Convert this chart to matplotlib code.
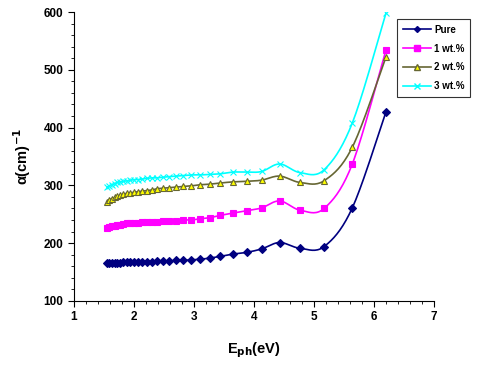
import numpy as np
import matplotlib
matplotlib.use("Agg")
import matplotlib.pyplot as plt
from matplotlib.ticker import MultipleLocator
from matplotlib.lines import Line2D

plt.rcParams['font.family'] = ['Liberation Sans', 'DejaVu Sans']
plt.rcParams['font.weight'] = 'bold'

# photon energy (eV)
energy = [1.55, 1.59, 1.63, 1.68, 1.72, 1.77, 1.82, 1.88, 1.94, 2.00, 2.07,
          2.14, 2.21, 2.30, 2.38, 2.48, 2.58, 2.70, 2.82, 2.95, 3.10, 3.26,
          3.44, 3.65, 3.88, 4.13, 4.43, 4.77, 5.17, 5.64, 6.20]

pure = [165, 165, 166, 166, 166, 166, 167, 167, 167, 167, 168, 168, 168, 168,
        169, 169, 169, 170, 170, 171, 172, 174, 177, 181, 184, 190, 201, 191,
        194, 261, 427]
wt1 = [227, 228, 229, 230, 231, 232, 233, 234, 234, 235, 235, 236, 236, 237,
       237, 238, 238, 239, 240, 240, 242, 244, 248, 252, 256, 261, 273, 257,
       260, 337, 534]
wt2 = [272, 275, 277, 279, 281, 283, 285, 286, 287, 288, 289, 290, 291, 292,
       294, 295, 296, 297, 298, 299, 301, 302, 304, 306, 307, 309, 316, 305,
       308, 366, 522]
wt3 = [297, 299, 301, 303, 305, 306, 307, 308, 309, 310, 310, 311, 312, 313,
       313, 314, 315, 316, 317, 318, 318, 319, 320, 323, 323, 324, 337, 322,
       327, 408, 598]

labels = ["Pure", "1 wt.%", "2 wt.%", "3 wt.%"]


def smooth(x, y, n=20):
    # Excel-like smoothed line (Catmull-Rom as cubic Bezier)
    p = np.column_stack([x, y]).astype(float)
    p = np.vstack([p[0], p, p[-1]])
    out = []
    t = np.linspace(0, 1, n)[:, None]
    for i in range(1, len(p) - 2):
        p0, p1, p2, p3 = p[i - 1], p[i], p[i + 1], p[i + 2]
        c1 = p1 + (p2 - p0) / 6
        c2 = p2 - (p3 - p1) / 6
        seg = ((1 - t) ** 3) * p1 + 3 * ((1 - t) ** 2) * t * c1 \
            + 3 * (1 - t) * t ** 2 * c2 + t ** 3 * p2
        out.append(seg)
    s = np.vstack(out)
    return s[:, 0], s[:, 1]


fig = plt.figure(figsize=(4.8, 3.66), dpi=100)
ax = fig.add_axes([0.154, 0.178, 0.75, 0.789])

styles = [
    dict(color="#000080", marker="D", ms=4, mfc="#000080", mec="#000080"),
    dict(color="#FF00FF", marker="s", ms=5, mfc="#FF00FF", mec="#FF00FF"),
    dict(color="#666633", marker="^", ms=5, mfc="#FFFF00", mec="#666633"),
    dict(color="#00FFFF", marker="x", ms=5, mfc="#00FFFF", mec="#00FFFF"),
]

handles = []
for ys, st, lab in zip([pure, wt1, wt2, wt3], styles, labels):
    sx, sy = smooth(energy, ys)
    ax.plot(sx, sy, color=st["color"], lw=1.2)
    ax.plot(energy, ys, ls="none", marker=st["marker"], ms=st["ms"],
            mfc=st["mfc"], mec=st["mec"], mew=0.8)
    handles.append(Line2D([], [], color=st["color"], lw=1.2, marker=st["marker"],
                          ms=st["ms"] - 1, mfc=st["mfc"], mec=st["mec"]))

ax.set_xlim(1, 7)
ax.set_ylim(100, 600)
ax.xaxis.set_major_locator(MultipleLocator(1))
ax.xaxis.set_minor_locator(MultipleLocator(0.2))
ax.yaxis.set_major_locator(MultipleLocator(100))
ax.yaxis.set_minor_locator(MultipleLocator(20))
ax.spines["top"].set_visible(False)
ax.spines["right"].set_visible(False)
ax.tick_params(which="major", length=4, width=0.8, labelsize=8.5)
ax.tick_params(which="minor", length=2.5, width=0.6)
ax.set_xlabel("E$_{\\mathbf{ph}}$(eV)", fontsize=10.5, fontweight="bold", labelpad=12)
ax.set_ylabel("α(cm)$^{\\mathbf{-1}}$", fontsize=10.5, fontweight="bold", labelpad=8)

leg = fig.legend(handles, labels, loc="upper left", bbox_to_anchor=(0.827, 0.948),
                 borderaxespad=0, fontsize=7, frameon=True, fancybox=False,
                 edgecolor="black", handlelength=2.9, handletextpad=0.3,
                 borderpad=0.6, labelspacing=0.9)
leg.get_frame().set_linewidth(0.8)
for t in leg.get_texts():
    t.set_fontweight("bold")

fig.savefig("out.png", dpi=100)
